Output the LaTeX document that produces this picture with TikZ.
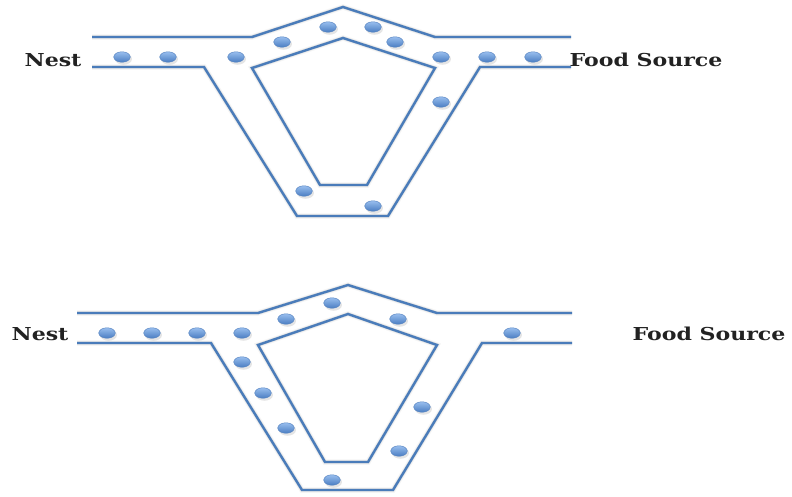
\documentclass[tikz,border=0pt]{standalone}
\usepackage{fontspec}
\setmainfont{DejaVu Serif}
\usetikzlibrary{calc,shapes.geometric}
\definecolor{trail}{HTML}{4A7CBA}
\definecolor{antlight}{HTML}{98BEEE}
\definecolor{antdark}{HTML}{4A7DC2}
\definecolor{antedge}{HTML}{5A86C2}
\definecolor{labelink}{HTML}{222222}
\tikzset{
  trailline/.style={draw=trail, line width=2.4pt, line join=miter},
  trailshade/.style={draw=black, line width=3.4pt, opacity=0.09},
  trailshadeB/.style={draw=black, line width=5.5pt, opacity=0.04},
  ant/.style={ellipse, minimum width=16.5pt, minimum height=10.5pt, inner sep=0pt,
    draw=antedge, line width=0.5pt, top color=antlight, bottom color=antdark},
  antshade/.style={ellipse, minimum width=17pt, minimum height=11.5pt, inner sep=0pt,
    fill=black, opacity=0.10},
  place/.style={text=labelink, font=\bfseries\fontsize{17.8}{19}\selectfont, xscale=1.24, inner sep=0pt}
}
% a trail path with a soft shadow beneath it
\newcommand{\trailpath}[1]{%
  \draw[trailshadeB, shift={(2pt,-3pt)}] #1;
  \draw[trailshade, shift={(1.5pt,-2pt)}] #1;
  \draw[trailline] #1;
}
% an ant with its shadow
\newcommand{\antat}[2]{%
  \node[antshade] at ($(#2)+(1.5,2)$) {};
  \node[ant] (#1) at (#2) {};
}
\begin{document}
\begin{tikzpicture}[x=1pt, y=-1pt]
\useasboundingbox (0,0) rectangle (792,496);

% ---------------- upper network ----------------
\coordinate (a1) at (92,37);   \coordinate (a2) at (252,37);
\coordinate (a3) at (343,7);   \coordinate (a4) at (435,37);
\coordinate (a5) at (571,37);
\coordinate (b1) at (92,67);   \coordinate (b2) at (204,67);
\coordinate (b3) at (297,216); \coordinate (b4) at (388,216);
\coordinate (b5) at (480,67);  \coordinate (b6) at (571,67);
\coordinate (c1) at (252,68);  \coordinate (c2) at (343,38);
\coordinate (c3) at (435,68);  \coordinate (c4) at (367,185);
\coordinate (c5) at (320,185);

\trailpath{(a1) -- (a2) -- (a3) -- (a4) -- (a5)}
\trailpath{(b1) -- (b2) -- (b3) -- (b4) -- (b5) -- (b6)}
\trailpath{(c1) -- (c2) -- (c3) -- (c4) -- (c5) -- cycle}

\antat{u1}{122,57}  \antat{u2}{168,57}  \antat{u3}{236,57}
\antat{u4}{282,42}  \antat{u5}{328,27}  \antat{u6}{373,27}
\antat{u7}{395,42}  \antat{u8}{441,57}  \antat{u9}{487,57}
\antat{u10}{533,57} \antat{u11}{441,102}
\antat{u12}{304,191} \antat{u13}{373,206}

\node[place] (nestA) at (53,60) {Nest};
\node[place] (foodA) at (646,60) {Food Source};

% ---------------- lower network ----------------
\coordinate (d1) at (77,313);  \coordinate (d2) at (258,313);
\coordinate (d3) at (348,285); \coordinate (d4) at (437,313);
\coordinate (d5) at (572,313);
\coordinate (e1) at (77,343);  \coordinate (e2) at (211,343);
\coordinate (e3) at (302,490); \coordinate (e4) at (393,490);
\coordinate (e5) at (482,343); \coordinate (e6) at (572,343);
\coordinate (f1) at (258,345); \coordinate (f2) at (348,314);
\coordinate (f3) at (437,345); \coordinate (f4) at (368,462);
\coordinate (f5) at (325,462);

\trailpath{(d1) -- (d2) -- (d3) -- (d4) -- (d5)}
\trailpath{(e1) -- (e2) -- (e3) -- (e4) -- (e5) -- (e6)}
\trailpath{(f1) -- (f2) -- (f3) -- (f4) -- (f5) -- cycle}

\antat{v1}{107,333}  \antat{v2}{152,333}  \antat{v3}{197,333}
\antat{v4}{242,333}  \antat{v5}{286,319}  \antat{v6}{332,303}
\antat{v7}{398,319}  \antat{v8}{512,333}
\antat{v9}{242,362}  \antat{v10}{263,393} \antat{v11}{286,428}
\antat{v12}{332,480} \antat{v13}{399,451} \antat{v14}{422,407}

\node[place] (nestB) at (40,334) {Nest};
\node[place] (foodB) at (709,334) {Food Source};
\end{tikzpicture}
\end{document}
